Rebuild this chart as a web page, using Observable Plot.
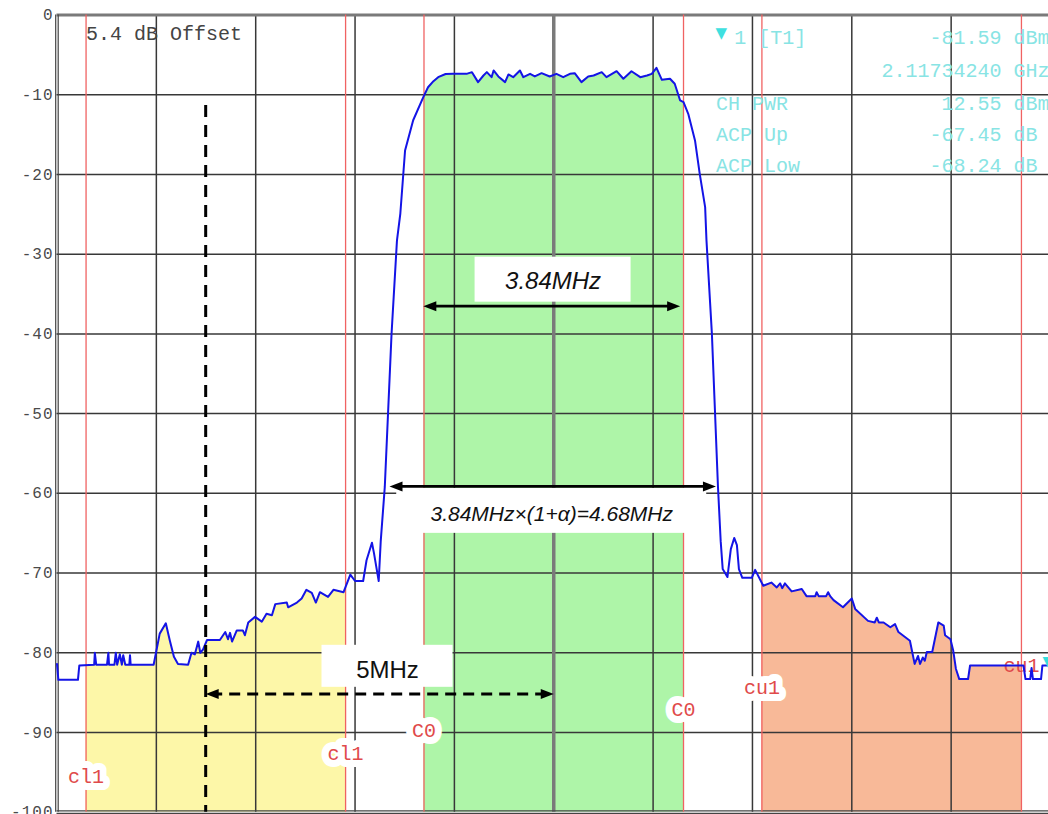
<!DOCTYPE html>
<html>
<head>
<meta charset="utf-8">
<script src="https://cdn.jsdelivr.net/npm/d3@7"></script>
<script src="https://cdn.jsdelivr.net/npm/@observablehq/plot@0.6"></script>
<style>
  html, body { margin: 0; padding: 0; background: #fff; overflow: hidden; }
  #chart svg { display: block; overflow: hidden; }
  g[aria-label="y-axis tick label"] text { letter-spacing: 1px; }
  g[aria-label="readout"] text { letter-spacing: 1.9px; }
  g[aria-label="offset-note"] text { letter-spacing: 1.8px; }
  g[aria-label="edge-label"] text { letter-spacing: 1.3px; }
  g[aria-label="box-text-upright"] text { letter-spacing: 1.3px; }
  g[aria-label="box-text-italic"] text { letter-spacing: 1.2px; }
</style>
</head>
<body>
<div id="chart"></div>
<script>
// ---------- data ----------
// level axis (dBm) ticks
const yTicks = [0, -10, -20, -30, -40, -50, -60, -70, -80, -90, -100];
// frequency offset from centre (MHz); span 14.7 MHz, 1.47 MHz / division
const xSpanMHz = [-7.35, 7.35];
const xGridMHz = [-5.88, -4.41, -2.94, -1.47, 1.47, 2.94, 4.41, 5.88];
const xCenterMHz = [0];

// ACP channels
const channelNames = ["cl1", "C0", "cu1"];
const channelOffsetMHz = [-5, 0, 5];
const channelBandwidthMHz = 3.84;
const channelFill = { cl1: "#fdf7a8", C0: "#aef5a8", cu1: "#f8b998" };
// level of each channel-edge label (left to right)
const edgeLabelLevels = [-95.5, -92.7, -89.8, -87.1, -84.4, -81.6];

// spectrum trace
const traceMHz = [
  -7.35, -7.33, -7.04, -7.02, -6.80, -6.79, -6.77, -6.61, -6.59, -6.58,
  -6.50, -6.48, -6.46, -6.42, -6.39, -6.37, -6.34, -6.28, -6.27, -6.26,
  -5.92, -5.83, -5.74, -5.68, -5.62, -5.56, -5.41, -5.36, -5.31, -5.26,
  -5.23, -5.19, -5.13, -4.94, -4.86, -4.82, -4.79, -4.76, -4.69, -4.60,
  -4.57, -4.52, -4.42, -4.32, -4.25, -4.17, -4.12, -3.95, -3.93, -3.80,
  -3.73, -3.66, -3.58, -3.52, -3.46, -3.34, -3.26, -3.11, -3.01, -2.94,
  -2.82, -2.77, -2.69, -2.66, -2.62, -2.59, -2.56, -2.50, -2.40, -2.32,
  -2.27, -2.20, -2.08, -1.93, -1.86, -1.78, -1.71, -1.60, -1.49, -1.29,
  -1.21, -1.12, -1.04, -0.99, -0.92, -0.89, -0.82, -0.72, -0.67, -0.60,
  -0.50, -0.45, -0.35, -0.28, -0.18, -0.06, 0.04, 0.14, 0.24, 0.31,
  0.41, 0.51, 0.59, 0.71, 0.78, 0.93, 1.03, 1.15, 1.28, 1.38,
  1.45, 1.52, 1.60, 1.72, 1.79, 1.87, 1.92, 1.99, 2.09, 2.16,
  2.24, 2.26, 2.34, 2.43, 2.47, 2.50, 2.57, 2.62, 2.67, 2.71,
  2.74, 2.79, 2.93, 2.98, 3.10, 3.22, 3.30, 3.35, 3.38, 3.42,
  3.52, 3.67, 3.74, 3.87, 3.89, 3.92, 4.03, 4.06, 4.09, 4.14,
  4.28, 4.41, 4.46, 4.65, 4.75, 4.78, 4.81, 4.88, 4.98, 5.05,
  5.10, 5.27, 5.34, 5.39, 5.42, 5.46, 5.49, 5.52, 5.60, 5.69,
  5.77, 5.79, 5.87, 5.91, 5.95, 6.00, 6.13, 6.16, 6.95, 6.98,
  7.05, 7.07, 7.09, 7.21, 7.23, 7.35
];
const traceDbm = [
  -81.4, -83.4, -83.4, -81.6, -81.5, -80.0, -81.5, -81.5, -80.0, -81.5,
  -81.5, -80.0, -81.5, -80.2, -81.5, -80.3, -81.5, -81.5, -80.3, -81.5,
  -81.5, -77.6, -76.3, -78.5, -80.5, -81.4, -81.5, -80.0, -80.2, -78.6,
  -80.0, -79.6, -78.4, -78.4, -77.4, -78.3, -77.5, -78.6, -77.2, -77.2,
  -77.8, -76.2, -75.5, -76.1, -75.1, -75.3, -73.9, -73.7, -74.3, -73.7,
  -73.2, -72.1, -72.5, -73.7, -72.4, -73.0, -72.1, -72.4, -70.2, -71.0,
  -71.0, -68.4, -66.2, -67.5, -69.5, -71.0, -66.0, -59.2, -40.0, -28.3,
  -24.9, -17.0, -13.2, -10.3, -9.06, -8.3, -7.8, -7.4, -7.38, -7.38,
  -7.17, -8.42, -7.59, -7.17, -7.80, -6.96, -7.71, -8.42, -7.46, -7.80,
  -6.96, -7.80, -7.38, -7.71, -7.30, -7.71, -7.38, -7.80, -7.38, -7.30,
  -8.42, -7.71, -7.59, -7.17, -7.80, -7.05, -8.00, -7.05, -7.80, -7.59,
  -7.38, -6.63, -8.13, -8.00, -8.63, -10.72, -10.93, -12.4, -15.74, -19.92,
  -24.1, -28.3, -40.0, -59.2, -66.0, -69.5, -70.5, -67.0, -65.6, -66.5,
  -69.5, -70.6, -70.6, -69.6, -71.6, -71.2, -71.8, -71.3, -71.9, -71.3,
  -72.3, -72.0, -72.9, -72.9, -72.4, -72.9, -72.9, -72.4, -72.9, -73.4,
  -74.3, -73.2, -74.5, -76.0, -76.2, -75.6, -76.2, -76.2, -76.8, -76.4,
  -77.4, -78.5, -81.4, -80.4, -81.4, -80.6, -81.0, -79.9, -79.9, -76.2,
  -76.6, -77.8, -78.3, -79.7, -82.0, -83.3, -83.3, -81.6, -81.6, -83.3,
  -83.3, -81.9, -83.3, -83.3, -81.6, -81.6
];

// marker T1
const markerMHz = 7.31;
const markerDbm = -81.59;

// instrument readout
const readoutLabels = ["1 [T1]", "", "CH PWR", "ACP Up", "ACP Low"];
const readoutValues = ["-81.59 dBm", "2.11734240 GHz", "12.55 dBm", "-67.45 dB\u00a0", "-68.24 dB\u00a0"];
const readoutRowDb = [-2.89, -7.0, -11.06, -14.97, -18.94];
const readoutLabelMHz = [2.67, 2.40, 2.40, 2.40, 2.40];
const readoutValueEndMHz = 7.336;
const readoutSymbolPos = [2.48, -2.26];

// offset note
const offsetNote = "5.4 dB Offset";
const offsetNotePos = [-6.92, -2.32];

// annotations: arrows (MHz, dBm)
const arrowFromMHz = [-5.15, -1.93, -2.43];
const arrowToMHz = [0.0, 1.87, 2.40];
const arrowLevelDb = [-85.17, -36.53, -59.14];
const arrowDashed = [true, false, false];
// vertical dashed reference line at 5 MHz below the carrier
const refLineMHz = -5.15;
const refLineTopDb = -11.35;

// annotation labels
const boxLabels = ["5MHz", "3.84MHz", "3.84MHz\u00d7(1+\u03b1)=4.68MHz"];
const boxCenterMHz = [-2.46, -0.01, -0.03];
const boxCenterDb = [-81.7, -33.2, -62.2];
const boxTextDb = [-82.15, -33.4, -62.68];

// ---------- derived tables ----------
const trace = traceMHz.map((f, i) => ({ f, db: traceDbm[i] }));
const chans = channelNames.map((name, i) => ({
  name,
  lo: channelOffsetMHz[i] - channelBandwidthMHz / 2,
  hi: channelOffsetMHz[i] + channelBandwidthMHz / 2
}));
const edges = chans
  .flatMap(c => [{ name: c.name, f: c.lo }, { name: c.name, f: c.hi }])
  .map((e, i) => ({ ...e, level: edgeLabelLevels[i] }));
const readout = readoutLabels.map((label, i) => ({
  label, value: readoutValues[i], row: readoutRowDb[i], lx: readoutLabelMHz[i]
}));
const arrows = arrowFromMHz.map((from, i) => ({ from, to: arrowToMHz[i], level: arrowLevelDb[i], dashed: arrowDashed[i] }));
const boxes = boxLabels.map((label, i) => ({ label, x: boxCenterMHz[i], y: boxCenterDb[i], ty: boxTextDb[i] }));

const boxSize = [[131, 42], [156, 45], [310, 45]];
const boxMark = (i) => Plot.rect([boxes[i]], {
  x1: "x", x2: "x", y1: "y", y2: "y",
  insetLeft: -boxSize[i][0] / 2, insetRight: -boxSize[i][0] / 2,
  insetTop: -boxSize[i][1] / 2, insetBottom: -boxSize[i][1] / 2,
  fill: "white"
});

const mono = "Liberation Mono, DejaVu Sans Mono, monospace";
const sans = "Liberation Sans, Arial, sans-serif";

const chart = Plot.plot({
  width: 1048,
  height: 814,
  marginLeft: 56.5,
  marginRight: 0,
  marginTop: 14.5,
  marginBottom: 2.3,
  x: { domain: xSpanMHz, range: [56.5, 1050], axis: null },
  y: { domain: [-100, 0], axis: null },
  color: { type: "identity" },
  style: { background: "white", overflow: "hidden" },
  marks: [
    // channel power fills
    Plot.rect(chans, { x1: "lo", x2: "hi", y1: -100, y2: 0, fill: d => channelFill[d.name] }),
    // blank out everything above the trace
    Plot.areaY(trace, { x: "f", y1: "db", y2: 0, fill: "white" }),
    // graticule
    Plot.ruleX(xGridMHz, { stroke: "#383838", strokeWidth: 1.5 }),
    Plot.ruleY(yTicks.filter(v => v !== 0 && v !== -100), { stroke: "#383838", strokeWidth: 1.5 }),
    Plot.ruleX(xCenterMHz, { stroke: "#7a7a7a", strokeWidth: 3.5 }),
    Plot.ruleY([0], { stroke: "#7a7a7a", strokeWidth: 3 }),
    Plot.ruleX([xSpanMHz[0]], { stroke: "#444", strokeWidth: 1.2, dx: -1.3 }),
    Plot.ruleX([xSpanMHz[0]], { stroke: "#444", strokeWidth: 1.2, dx: 1.2 }),
    Plot.ruleY([-100], { stroke: "#444", strokeWidth: 1.2, dy: -1.3 }),
    Plot.ruleY([-100], { stroke: "#444", strokeWidth: 1.2, dy: 1.2 }),
    // channel edges
    Plot.ruleX(edges, { x: "f", stroke: "#f06262", strokeWidth: 1.3 }),
    // y axis
    Plot.axisY(yTicks, {
      anchor: "left", tickSize: 0, tickPadding: 3.5, tickFormat: d => String(d),
      fontFamily: mono, fontSize: 16, fill: "#4a4a4a", label: null
    }),
    // channel-edge labels
    Plot.text(edges, {
      filter: (d, i) => i < 5,
      x: "f", y: "level", text: "name", fontFamily: mono, fontSize: 20, fill: "#e04a4a",
      stroke: "white", strokeWidth: 14, strokeLinejoin: "round", paintOrder: "stroke",
      ariaLabel: "edge-label"
    }),
    Plot.text(edges, {
      filter: (d, i) => i >= 5,
      x: "f", y: "level", text: "name", fontFamily: mono, fontSize: 20, fill: "#e04a4a",
      ariaLabel: "edge-label"
    }),
    // spectrum trace
    Plot.line(trace, { x: "f", y: "db", stroke: "#1414e6", strokeWidth: 2 }),
    // marker
    Plot.text([markerMHz], { x: d => d, y: markerDbm, text: () => "\u25bc", lineAnchor: "bottom", dy: 1, fontFamily: "DejaVu Sans", fontSize: 14, fill: "#33dede" }),
    // readout
    Plot.text(["\u25bc"], { x: readoutSymbolPos[0], y: readoutSymbolPos[1], text: d => d, fontFamily: "DejaVu Sans", fontSize: 15, fill: "#3fe0e0" }),
    Plot.text(readout, { x: "lx", y: "row", text: "label", textAnchor: "start", fontFamily: mono, fontSize: 20, fill: "#88e4e4", ariaLabel: "readout" }),
    Plot.text(readout, { x: readoutValueEndMHz, y: "row", text: "value", textAnchor: "end", fontFamily: mono, fontSize: 20, fill: "#88e4e4", ariaLabel: "readout" }),
    // offset note
    Plot.text([offsetNote], { x: offsetNotePos[0], y: offsetNotePos[1], text: d => d, textAnchor: "start", fontFamily: mono, fontSize: 20, fill: "#444", ariaLabel: "offset-note" }),
    // vertical dashed reference line
    Plot.ruleX([refLineMHz], { y1: refLineTopDb, y2: -100, stroke: "black", strokeWidth: 3, strokeDasharray: "12,8" }),
    // white label boxes
    boxMark(0), boxMark(1), boxMark(2),
    // arrows
    Plot.ruleY(arrows.filter(d => d.dashed), { x1: "from", x2: "to", y: "level", insetLeft: 6, insetRight: 6, stroke: "black", strokeWidth: 3, strokeDasharray: "11,7" }),
    Plot.ruleY(arrows.filter(d => !d.dashed), { x1: "from", x2: "to", y: "level", insetLeft: 6, insetRight: 6, stroke: "black", strokeWidth: 2.8 }),
    Plot.vector(arrows, { x: "to", y: "level", rotate: 90, anchor: "end", length: 13, r: 5, shape: "spike", fill: "black", stroke: "none" }),
    Plot.vector(arrows, { x: "from", y: "level", rotate: -90, anchor: "end", length: 13, r: 5, shape: "spike", fill: "black", stroke: "none" }),
    // annotation texts
    Plot.text(boxes.slice(0, 1), { x: "x", y: "ty", text: "label", fontFamily: sans, fontSize: 24, fill: "#111", ariaLabel: "box-text-upright" }),
    Plot.text(boxes.slice(1, 2), { x: "x", y: "ty", text: "label", fontFamily: sans, fontSize: 24, fontStyle: "italic", fill: "#111", ariaLabel: "box-text-upright" }),
    Plot.text(boxes.slice(2, 3), { x: "x", y: "ty", text: "label", fontFamily: sans, fontSize: 21, fontStyle: "italic", fill: "#111", ariaLabel: "box-text-italic" })
  ]
});

document.getElementById("chart").appendChild(chart);
</script>
</body>
</html>
